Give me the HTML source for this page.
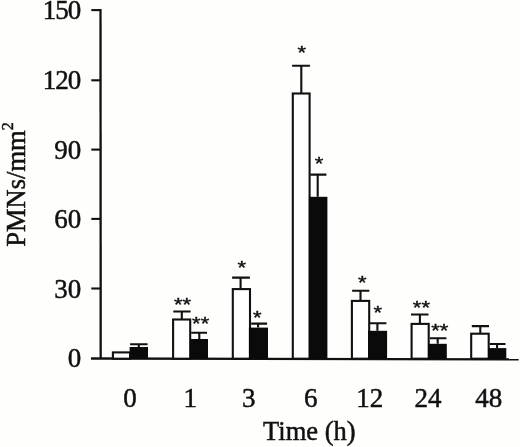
<!DOCTYPE html>
<html><head><meta charset="utf-8"><title>PMNs/mm2 vs Time (h)</title>
<style>
html,body{margin:0;padding:0;background:#fefefd;}
svg{display:block;font-family:"Liberation Serif","Times New Roman",serif;fill:#111;}
.ax{stroke:#111;stroke-width:2.3;fill:none;}
.wb{fill:#fff;stroke:#111;stroke-width:2.1;}
.bb{fill:#0a0a0a;stroke:none;}
.eb{stroke:#111;stroke-width:2.1;fill:none;}
.st{font-family:"Liberation Sans",Arial,sans-serif;font-size:22px;text-anchor:middle;stroke:#111;stroke-width:0.5;}
.tk{font-size:27px;stroke:#111;stroke-width:0.5;}
.tl{stroke:#111;stroke-width:0.5;}
</style></head><body>
<svg width="520" height="447" viewBox="0 0 520 447">
<rect x="0" y="0" width="520" height="447" fill="#fefefd"/>

<path class="ax" d="M100.5 9L100.7 359"/>
<path class="ax" d="M91 358.5L518.7 359.3"/>
<path class="eb" d="M91.3 288.50H100.6"/>
<path class="eb" d="M91.3 218.90H100.6"/>
<path class="eb" d="M91.3 149.60H100.6"/>
<path class="eb" d="M91.3 80.30H100.6"/>
<path class="eb" d="M91.3 10.10H100.6"/>
<text class="tk" x="81.2" y="367.40" text-anchor="end">0</text>
<text class="tk" x="81.2" y="297.70" text-anchor="end">30</text>
<text class="tk" x="81.2" y="227.70" text-anchor="end">60</text>
<text class="tk" x="81.2" y="158.70" text-anchor="end">90</text>
<text class="tk" x="81.2" y="88.70" text-anchor="end" textLength="38.4" lengthAdjust="spacing">120</text>
<text class="tk" x="81.2" y="18.50" text-anchor="end" textLength="38.4" lengthAdjust="spacing">150</text>
<rect class="wb" x="112.90" y="352.40" width="17.20" height="6.30"/>
<path class="eb" d="M138.80 347.00V344.20M130.10 344.20H147.60"/>
<rect class="bb" x="129.60" y="347.00" width="18.40" height="12.00"/>
<text class="tk" x="129.90" y="407.1" text-anchor="middle">0</text>
<path class="eb" d="M181.80 319.50V311.50M173.30 311.50H190.60"/>
<rect class="wb" x="173.10" y="319.50" width="17.10" height="39.20"/>
<path class="eb" d="M199.30 339.00V332.70M191.20 332.70H207.00"/>
<rect class="bb" x="190.00" y="339.00" width="18.00" height="20.00"/>
<text class="st" transform="translate(182.50 301.40) scale(1 0.82)" x="0" y="11.50">**</text>
<text class="st" transform="translate(200.65 320.30) scale(1 0.82)" x="0" y="11.50">**</text>
<text class="tk" x="190.30" y="407.1" text-anchor="middle">1</text>
<path class="eb" d="M240.60 289.10V277.60M232.10 277.60H249.90"/>
<rect class="wb" x="232.80" y="289.10" width="17.20" height="69.60"/>
<path class="eb" d="M258.10 327.60V323.60M251.20 323.60H267.10"/>
<rect class="bb" x="248.90" y="327.60" width="19.10" height="31.40"/>
<text class="st" transform="translate(241.80 264.40) scale(1 0.82)" x="0" y="11.50">*</text>
<text class="st" transform="translate(257.30 314.50) scale(1 0.82)" x="0" y="11.50">*</text>
<text class="tk" x="248.80" y="407.1" text-anchor="middle">3</text>
<path class="eb" d="M301.30 93.50V65.70M292.10 65.70H309.90"/>
<rect class="wb" x="292.80" y="93.50" width="16.80" height="265.20"/>
<path class="eb" d="M317.70 196.80V174.60M310.30 174.60H326.40"/>
<rect class="bb" x="308.90" y="196.80" width="18.50" height="162.20"/>
<text class="st" transform="translate(301.70 49.90) scale(1 0.82)" x="0" y="11.50">*</text>
<text class="st" transform="translate(319.00 161.00) scale(1 0.82)" x="0" y="11.50">*</text>
<text class="tk" x="310.70" y="407.1" text-anchor="middle">6</text>
<path class="eb" d="M360.50 300.90V290.80M352.10 290.80H369.30"/>
<rect class="wb" x="351.90" y="300.90" width="17.30" height="57.80"/>
<path class="eb" d="M377.40 330.80V323.20M369.90 323.20H386.40"/>
<rect class="bb" x="368.00" y="330.80" width="19.10" height="28.20"/>
<text class="st" transform="translate(362.20 279.50) scale(1 0.82)" x="0" y="11.50">*</text>
<text class="st" transform="translate(377.70 309.10) scale(1 0.82)" x="0" y="11.50">*</text>
<text class="tk" x="369.70" y="407.1" text-anchor="middle">12</text>
<path class="eb" d="M419.90 323.90V314.50M411.00 314.50H428.50"/>
<rect class="wb" x="411.60" y="323.90" width="17.10" height="34.80"/>
<path class="eb" d="M437.70 343.80V338.20M429.90 338.20H446.40"/>
<rect class="bb" x="428.00" y="343.80" width="18.80" height="15.20"/>
<text class="st" transform="translate(421.40 305.00) scale(1 0.82)" x="0" y="11.50">**</text>
<text class="st" transform="translate(439.70 327.40) scale(1 0.82)" x="0" y="11.50">**</text>
<text class="tk" x="428.10" y="407.1" text-anchor="middle">24</text>
<path class="eb" d="M480.30 333.70V326.10M471.80 326.10H489.00"/>
<rect class="wb" x="471.20" y="333.70" width="17.50" height="25.00"/>
<path class="eb" d="M497.10 348.10V344.00M489.70 344.00H505.50"/>
<rect class="bb" x="488.00" y="348.10" width="18.30" height="10.90"/>
<text class="tk" x="488.80" y="407.1" text-anchor="middle">48</text>
<text class="tl" x="263" y="440.2" font-size="28px" textLength="92.6" lengthAdjust="spacingAndGlyphs">Time (h)</text>
<text class="tl" transform="translate(24.6 246.8) rotate(-90)" font-size="28px" textLength="116.5" lengthAdjust="spacingAndGlyphs">PMNs/mm</text>
<text class="tl" transform="translate(12.9 130.2) rotate(-90)" font-size="16px">2</text>
</svg></body></html>
